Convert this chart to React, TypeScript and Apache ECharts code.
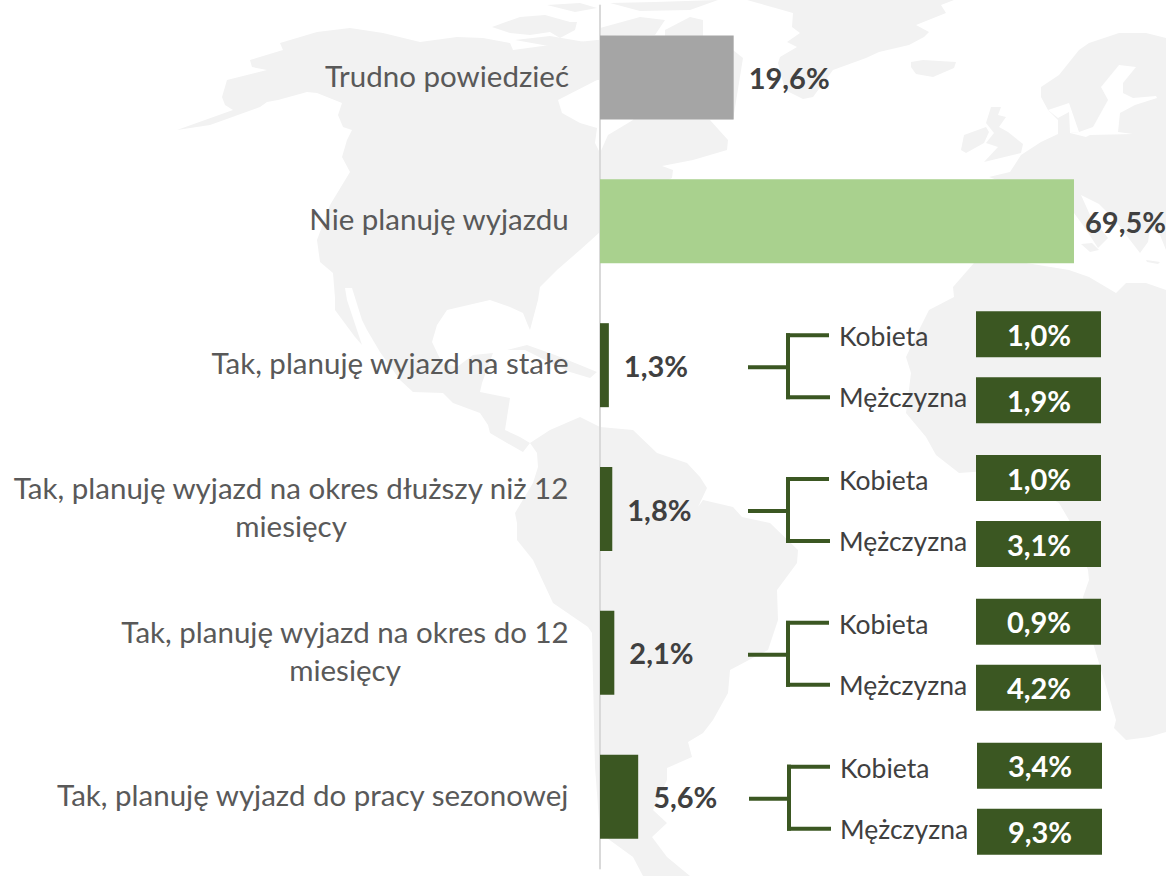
import React, { useEffect, useRef } from "react";
import * as echarts from "echarts";

const categories = [
  "Trudno powiedzieć",
  "Nie planuję wyjazdu",
  "Tak, planuję wyjazd na stałe",
  "Tak, planuję wyjazd na okres dłuższy niż 12\nmiesięcy",
  "Tak, planuję wyjazd na okres do 12\nmiesięcy",
  "Tak, planuję wyjazd do pracy sezonowej",
];
const totals = [19.6, 69.5, 1.3, 1.8, 2.1, 5.6];
const womenValues = [null, null, 1.0, 1.0, 0.9, 3.4];
const menValues = [null, null, 1.9, 3.1, 4.2, 9.3];
const womanLabel = "Kobieta";
const manLabel = "Mężczyzna";

const GRAY = "#A5A5A5";
const LIGHT = "#A9D18E";
const DARK = "#3B5722";
const MAP = "#F2F2F2";
const barColors = [GRAY, LIGHT, DARK, DARK, DARK, DARK];
const FONT = "Lato, Carlito, sans-serif";

const northAmerica = [
  [177,130],[210,125],[260,107],[267,102],[278,100],[307,92],[317,93],[342,103],[338,115],[343,127],[352,130],[347,140],[342,157],[350,172],[330,205],[317,240],[320,262],[333,273],[335,298],[335,310],[355,337],[362,345],[347,300],[345,288],[352,288],[362,320],[367,330],[380,352],[400,380],[413,392],[443,393],[453,403],[480,413],[488,425],[490,433],[507,443],[523,452],[530,443],[520,437],[505,430],[510,398],[480,392],[482,383],[493,353],[473,355],[457,367],[442,363],[432,342],[437,325],[447,310],[477,303],[490,300],[510,307],[523,313],[527,323],[530,330],[538,300],[540,287],[557,270],[580,250],[600,232],[650,190],[672,178],[673,170],[662,166],[693,160],[727,150],[728,140],[710,120],[733,120],[743,58],[733,50],[700,40],[597,40],[550,45],[513,50],[510,43],[483,38],[457,37],[420,42],[383,33],[350,28],[317,32],[280,43],[283,50],[250,60],[252,67],[267,70],[227,80],[222,97],[225,105],[233,110],
];
const hudsonBay = [[597,80],[558,100],[562,113],[580,123],[597,128],[595,143],[600,153],[608,135],[633,120],[640,100],[620,80]];
const stLawrence = [[700,177],[717,158],[730,170],[732,181],[690,181]];
const southAmerica = [
  [530,443],[550,430],[580,417],[600,427],[633,430],[657,453],[687,463],[700,477],[707,488],[698,507],[703,500],[733,507],[742,517],[770,523],[798,550],[797,563],[777,590],[778,620],[768,650],[730,670],[728,693],[713,720],[703,733],[688,742],[692,757],[667,768],[667,780],[653,810],[667,823],[652,837],[667,857],[690,876],[643,876],[633,857],[600,833],[595,767],[592,633],[588,627],[553,603],[533,560],[517,540],[517,523],[515,513],[533,483],[538,467],[537,453],
];
const greenland = [
  [747,0],[793,13],[792,27],[800,33],[787,42],[797,47],[780,57],[778,63],[785,90],[803,99],[813,97],[833,70],[866,58],[879,52],[909,45],[924,37],[929,32],[916,25],[946,13],[941,5],[954,0],
];
const iceland = [[911,62],[923,60],[956,62],[954,68],[933,77],[916,74],[911,67]];
const ireland = [[961,150],[964,135],[986,127],[989,132],[984,143],[966,153]];
const britain = [[991,107],[1001,107],[998,115],[1006,117],[999,127],[1008,132],[1023,144],[1021,153],[984,162],[998,147],[986,143],[994,133],[986,123]];
const eurasia = [
  [1041,87],[1059,75],[1079,50],[1089,43],[1119,33],[1146,33],[1166,38],[1166,250],[1160,235],[1150,228],[1148,242],[1140,253],[1130,240],[1115,220],[1099,204],[1081,195],[1090,215],[1108,238],[1098,248],[1085,228],[1074,213],[1060,200],[1000,181],[989,177],[1010,172],[1021,155],[1041,142],[1058,134],[1058,120],[1048,110],[1041,97],
];
const baltic = [[1119,65],[1136,67],[1123,83],[1123,93],[1133,98],[1156,96],[1157,98],[1135,105],[1120,113],[1118,132],[1133,134],[1090,135],[1086,137],[1070,133],[1079,132],[1093,127],[1108,100],[1101,87]];
const kattegat = [[1058,118],[1048,110],[1069,103],[1079,132],[1070,133],[1069,112]];
const sicily = [[1081,244],[1092,243],[1099,250],[1090,252]];
const crete = [[1146,260],[1160,262],[1158,264],[1147,262]];
const africa = [
  [974,263],[953,287],[954,297],[929,310],[919,330],[906,357],[911,373],[906,413],[926,437],[936,455],[959,473],[1000,470],[1059,503],[1069,520],[1088,570],[1089,580],[1083,597],[1093,643],[1099,663],[1116,720],[1114,728],[1126,740],[1149,737],[1166,732],[1166,290],[1146,283],[1126,283],[1116,293],[1089,277],[1069,270],[1020,262],
];
const arctic1 = [[492,27],[520,17],[545,15],[570,22],[577,22],[575,30],[560,38],[550,32],[530,35],[510,33]];
const arctic2 = [[547,5],[580,3],[597,8],[575,12]];
const arctic3 = [[515,40],[550,36],[585,42],[560,48]];
const arctic4 = [[610,3],[655,2],[718,0],[690,10],[640,11]];
const arctic5 = [[600,28],[640,17],[665,20],[655,35],[600,36]];
const arctic6 = [[665,30],[690,17],[703,20],[703,36],[665,36]];
const hispaniola = [[507,350],[527,345],[555,355],[580,365],[597,372],[590,378],[570,372],[545,360],[525,350]];
const landShapes = [northAmerica, southAmerica, greenland, iceland, ireland, britain, eurasia, sicily, crete, africa, arctic1, arctic2, arctic3, arctic4, arctic5, arctic6, hispaniola];
const waterShapes = [hudsonBay, stLawrence, baltic, kattegat];

const pct = (v: number) => v.toFixed(1).replace(".", ",") + "%";

export default function App() {
  const ref = useRef<HTMLDivElement>(null);
  useEffect(() => {
    const chart = echarts.init(ref.current!, undefined, { renderer: "svg" });
    const poly = (points: number[][], fill: string) => ({
      type: "polygon",
      silent: true,
      z: -1,
      shape: { points },
      style: { fill },
    });
    chart.setOption({
      animation: false,
      backgroundColor: "#ffffff",
      graphic: { elements: [...landShapes.map((p) => poly(p, MAP)), ...waterShapes.map((p) => poly(p, "#ffffff"))] },
      grid: { left: 600, top: 5.6, width: 545.6, height: 863, containLabel: false },
      xAxis: { type: "value", min: 0, max: 80, show: false },
      yAxis: {
        type: "category",
        inverse: true,
        z: 1,
        data: categories,
        axisTick: { show: false },
        splitLine: { show: false },
        axisLine: { show: true, lineStyle: { color: "#D9D9D9", width: 2 } },
        axisLabel: {
          interval: 0,
          margin: 31,
          padding: [0, 0, 5, 0],
          fontFamily: FONT,
          formatter: (v: string) => v.split("\n").map((l) => `{c|${l}}`).join("\n"),
          rich: { c: { fontFamily: FONT, fontSize: 29.5, color: "#595959", lineHeight: 38, align: "center" } },
        },
      },
      series: [
        {
          type: "bar",
          barWidth: 84,
          z: 3,
          data: totals.map((v, i) => ({
            value: v,
            itemStyle: { color: barColors[i] },
            label: { distance: i === 1 ? 11 : 15 },
          })),
          label: {
            show: true,
            position: "right",
            distance: 15,
            fontFamily: FONT,
            fontSize: 29,
            fontWeight: "bold",
            color: "#404040",
            formatter: (p: any) => pct(p.value),
          },
        },
        {
          type: "custom",
          z: 4,
          coordinateSystem: "cartesian2d",
          encode: { x: 0, y: 1 },
          silent: true,
          clip: false,
          data: womenValues
            .map((w, i) => [w, i, menValues[i]])
            .filter((r) => r[0] !== null),
          renderItem: (_p: any, api: any) => {
            const cat = api.value(1);
            const y = api.coord([0, cat])[1];
            const dx = cat === 5 ? 1 : 0;
            const line = (x1: number, y1: number, x2: number, y2: number) => ({
              type: "line",
              shape: { x1: x1 + dx, y1: y + y1, x2: x2 + dx, y2: y + y2 },
              style: { stroke: DARK, lineWidth: 4, fill: "none" },
            });
            const box = (top: number, v: number) => [
              { type: "rect", shape: { x: 976 + dx, y: y + top, width: 125, height: 46 }, style: { fill: DARK } },
              {
                type: "text",
                style: {
                  text: pct(v),
                  x: 1039 + dx,
                  y: y + top + 23,
                  align: "center",
                  verticalAlign: "middle",
                  fill: "#ffffff",
                  font: `bold 29px ${FONT}`,
                },
              },
            ];
            const name = (t: string, top: number) => ({
              type: "text",
              style: {
                text: t,
                x: 839 + dx,
                y: y + top,
                align: "left",
                verticalAlign: "middle",
                fill: "#404040",
                font: `26.5px ${FONT}`,
              },
            });
            return {
              type: "group",
              children: [
                line(748, 2, 788, 2),
                line(788, -32, 788, 34),
                line(786, -30, 829, -30),
                line(786, 32, 830, 32),
                name(womanLabel, -29),
                name(manLabel, 32),
                ...box(-54, api.value(0)),
                ...box(12, api.value(2)),
              ],
            };
          },
        },
      ],
    });
    return () => chart.dispose();
  }, []);
  return <div ref={ref} style={{ position: "absolute", left: 0, top: 0, width: 1166, height: 876 }} />;
}
